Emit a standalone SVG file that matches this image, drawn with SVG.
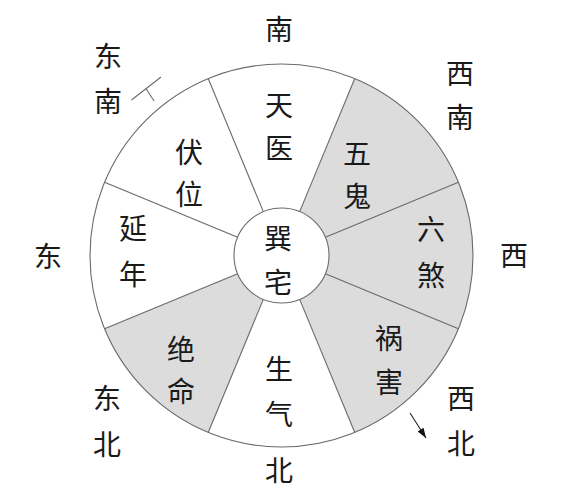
<svg xmlns="http://www.w3.org/2000/svg" width="574" height="490" viewBox="0 0 574 490">
<style>
.t{font-family:"Noto Sans CJK SC","Noto Sans",sans-serif;font-size:28px;fill:#1a1a1a;text-anchor:middle;dominant-baseline:central}
.ln{stroke:#6a6a6a;stroke-width:1.1;fill:none}
.sh{fill:#dcdcdc;stroke:none}
</style>
<defs>
<marker id="ah" viewBox="0 0 10 10" refX="10" refY="5" markerWidth="10" markerHeight="10" markerUnits="userSpaceOnUse" orient="auto">
<path d="M0,1.5 L10,5 L0,8.5 Z" fill="#111"/>
</marker>
</defs>
<rect width="574" height="490" fill="#fff"/>
<g id="wheel">
<path class="sh" d="M354.78,78.58 A191.5,191.5 0 0 1 354.78,432.42 L299.68,299.38 A47.5,47.5 0 0 0 299.68,211.62 Z"/>
<path class="sh" d="M208.22,432.42 A191.5,191.5 0 0 1 104.58,328.78 L237.62,273.68 A47.5,47.5 0 0 0 263.32,299.38 Z"/>
<circle class="ln" cx="281.5" cy="255.5" r="191.5"/>
<circle cx="281.5" cy="255.5" r="47.5" fill="#fff" stroke="#6a6a6a" stroke-width="1.1"/>
</g>
<g id="connectors">
<line class="ln" x1="354.78" y1="78.58" x2="299.68" y2="211.62"/>
<line class="ln" x1="458.42" y1="182.22" x2="325.38" y2="237.32"/>
<line class="ln" x1="458.42" y1="328.78" x2="325.38" y2="273.68"/>
<line class="ln" x1="354.78" y1="432.42" x2="299.68" y2="299.38"/>
<line class="ln" x1="208.22" y1="432.42" x2="263.32" y2="299.38"/>
<line class="ln" x1="104.58" y1="328.78" x2="237.62" y2="273.68"/>
<line class="ln" x1="104.58" y1="182.22" x2="237.62" y2="237.32"/>
<line class="ln" x1="208.22" y1="78.58" x2="263.32" y2="211.62"/>
<line class="ln" x1="131.5" y1="100" x2="161" y2="77"/>
<line class="ln" x1="146" y1="88.5" x2="154" y2="101"/>
<line x1="410" y1="413" x2="426" y2="438" stroke="#222" stroke-width="1.1" marker-end="url(#ah)"/>
</g>
<g id="center"><text class="t" x="278" y="237">巽</text><text class="t" x="278" y="281">宅</text></g>
<g id="tianyi"><text class="t" x="279" y="104">天</text><text class="t" x="279" y="147">医</text></g>
<g id="fuwei"><text class="t" x="189" y="151">伏</text><text class="t" x="189" y="193">位</text></g>
<g id="wugui"><text class="t" x="357" y="152">五</text><text class="t" x="357" y="195">鬼</text></g>
<g id="yannian"><text class="t" x="133" y="227">延</text><text class="t" x="133" y="273">年</text></g>
<g id="liusha"><text class="t" x="431" y="228">六</text><text class="t" x="431" y="274">煞</text></g>
<g id="jueming"><text class="t" x="181" y="348">绝</text><text class="t" x="181" y="390">命</text></g>
<g id="shengqi"><text class="t" x="279" y="368">生</text><text class="t" x="279" y="413">气</text></g>
<g id="huohai"><text class="t" x="389" y="337">祸</text><text class="t" x="389" y="381">害</text></g>
<g id="dir-s"><text class="t" x="279" y="28">南</text></g>
<g id="dir-se"><text class="t" x="108" y="55">东</text><text class="t" x="108" y="100">南</text></g>
<g id="dir-sw"><text class="t" x="460" y="72">西</text><text class="t" x="460" y="116">南</text></g>
<g id="dir-w"><text class="t" x="514" y="254">西</text></g>
<g id="dir-e"><text class="t" x="48" y="255">东</text></g>
<g id="dir-ne"><text class="t" x="107" y="397">东</text><text class="t" x="107" y="443">北</text></g>
<g id="dir-nw"><text class="t" x="461" y="397">西</text><text class="t" x="461" y="442">北</text></g>
<g id="dir-n"><text class="t" x="279" y="469">北</text></g>
</svg>
